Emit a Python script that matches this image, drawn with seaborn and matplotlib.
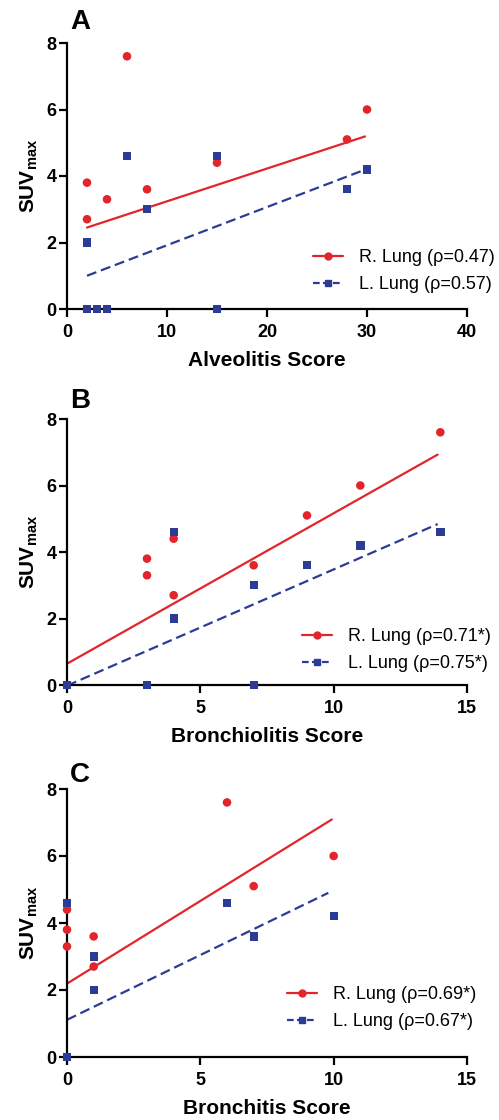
import matplotlib
matplotlib.use("Agg")
import matplotlib.pyplot as plt
from matplotlib.lines import Line2D
import seaborn as sns

sns.set_theme(style="ticks")
plt.rcParams['font.family'] = ['Liberation Sans', 'DejaVu Sans']
plt.rcParams['mathtext.fontset'] = 'custom'
plt.rcParams['mathtext.rm'] = 'Liberation Sans'
plt.rcParams['mathtext.bf'] = 'Liberation Sans:bold'
plt.rcParams['text.color'] = 'black'
plt.rcParams['axes.labelcolor'] = 'black'
plt.rcParams['xtick.color'] = 'black'
plt.rcParams['ytick.color'] = 'black'

RED = "#E2252B"
BLUE = "#2C3C94"

# ---------------- Data ----------------
# Panel A: Alveolitis
a_r_x = [2, 2, 4, 6, 8, 15, 28, 30]
a_r_y = [3.8, 2.7, 3.3, 7.6, 3.6, 4.4, 5.1, 6.0]
a_l_x = [2, 2, 3, 4, 6, 8, 15, 15, 28, 30]
a_l_y = [2.0, 0, 0, 0, 4.6, 3.0, 4.6, 0, 3.6, 4.2]
a_fit_r_x = [2, 29.8]
a_fit_r_y = [2.45, 5.19]
a_fit_l_x = [2, 29.8]
a_fit_l_y = [1.0, 4.19]

# Panel B: Bronchiolitis
b_r_x = [3, 3, 4, 4, 7, 9, 11, 14]
b_r_y = [3.8, 3.3, 4.4, 2.7, 3.6, 5.1, 6.0, 7.6]
b_l_x = [0, 3, 4, 4, 7, 7, 9, 11, 14]
b_l_y = [0, 0, 4.6, 2.0, 3.0, 0, 3.6, 4.2, 4.6]
b_fit_r_x = [0, 13.9]
b_fit_r_y = [0.64, 6.93]
b_fit_l_x = [0, 13.9]
b_fit_l_y = [-0.02, 4.84]

# Panel C: Bronchitis
c_r_x = [0, 0, 0, 1, 1, 6, 7, 10]
c_r_y = [4.4, 3.8, 3.3, 3.6, 2.7, 7.6, 5.1, 6.0]
c_l_x = [0, 0, 1, 1, 6, 7, 10]
c_l_y = [4.6, 0, 3.0, 2.0, 4.6, 3.6, 4.2]
c_fit_r_x = [0, 9.93]
c_fit_r_y = [2.19, 7.09]
c_fit_l_x = [0, 9.8]
c_fit_l_y = [1.11, 4.9]

panel_letters = ["A", "B", "C"]
x_labels = ["Alveolitis Score", "Bronchiolitis Score", "Bronchitis Score"]
x_limits = [40, 15, 15]
x_ticks = [[0, 10, 20, 30, 40], [0, 5, 10, 15], [0, 5, 10, 15]]
y_ticks = [0, 2, 4, 6, 8]
legend_r = ["R. Lung (ρ=0.47)", "R. Lung (ρ=0.71*)", "R. Lung (ρ=0.69*)"]
legend_l = ["L. Lung (ρ=0.57)", "L. Lung (ρ=0.75*)", "L. Lung (ρ=0.67*)"]

panels = [
    (a_r_x, a_r_y, a_l_x, a_l_y, a_fit_r_x, a_fit_r_y, a_fit_l_x, a_fit_l_y),
    (b_r_x, b_r_y, b_l_x, b_l_y, b_fit_r_x, b_fit_r_y, b_fit_l_x, b_fit_l_y),
    (c_r_x, c_r_y, c_l_x, c_l_y, c_fit_r_x, c_fit_r_y, c_fit_l_x, c_fit_l_y),
]

W, H = 499, 1120
fig = plt.figure(figsize=(W / 100, H / 100), dpi=100)

# axes boxes in pixels (left, top, right, bottom)
boxes = [(67, 43, 467, 309), (67, 419, 467, 685), (67, 789, 467, 1057)]
legend_pos = [(313, 271), (302, 650), (287, 1008)]
letter_pos = [(70, 29), (70, 408), (70, 782)]

for i, (rx, ry, lx, ly, frx, fry, flx, fly) in enumerate(panels):
    l, t, r, b = boxes[i]
    ax = fig.add_axes([l / W, 1 - b / H, (r - l) / W, (b - t) / H])
    sns.lineplot(x=frx, y=fry, ax=ax, color=RED, lw=1.6, clip_on=False)
    sns.lineplot(x=flx, y=fly, ax=ax, color=BLUE, lw=1.6, dashes=False,
                 linestyle=(0, (4.5, 2.2)), clip_on=False)
    sns.scatterplot(x=rx, y=ry, ax=ax, color=RED, marker="o", s=38,
                    edgecolor="none", clip_on=False, zorder=3)
    sns.scatterplot(x=lx, y=ly, ax=ax, color=BLUE, marker="s", s=36,
                    edgecolor="none", clip_on=False, zorder=4)
    ax.set_xlim(0, x_limits[i])
    ax.set_ylim(0, 8)
    ax.set_xticks(x_ticks[i])
    ax.set_yticks(y_ticks)
    for s in ["top", "right"]:
        ax.spines[s].set_visible(False)
    for s in ["left", "bottom"]:
        ax.spines[s].set_linewidth(1.6)
        ax.spines[s].set_color("black")
    ax.tick_params(axis="both", length=6, width=1.6, labelsize=13)
    ax.tick_params(axis="x", pad=5)
    ax.tick_params(axis="y", pad=1.5)
    for lab in ax.get_xticklabels() + ax.get_yticklabels():
        lab.set_fontweight("bold")
    ax.set_xlabel(x_labels[i], fontsize=15, fontweight="bold", labelpad=7)
    ax.set_ylabel(r"SUV$_{\mathbf{max}}$", fontsize=15, fontweight="bold", labelpad=5)

    handles = [
        Line2D([], [], color=RED, lw=1.6, marker="o", markersize=5),
        Line2D([], [], color=BLUE, lw=1.6, marker="s", markersize=4.6,
               linestyle=(0, (3, 1.5))),
    ]
    lx_, ly_ = legend_pos[i]
    ax.legend(handles, [legend_r[i], legend_l[i]], loc="center left",
              bbox_to_anchor=(lx_ / W, 1 - ly_ / H), bbox_transform=fig.transFigure,
              frameon=False, fontsize=13, borderpad=0, borderaxespad=0,
              handlelength=1.65, handletextpad=0.9, labelspacing=0.55)

    px, py = letter_pos[i]
    fig.text(px / W, 1 - py / H, panel_letters[i], fontsize=20,
             fontweight="bold", ha="left", va="baseline")

fig.savefig("out.png", dpi=100)
